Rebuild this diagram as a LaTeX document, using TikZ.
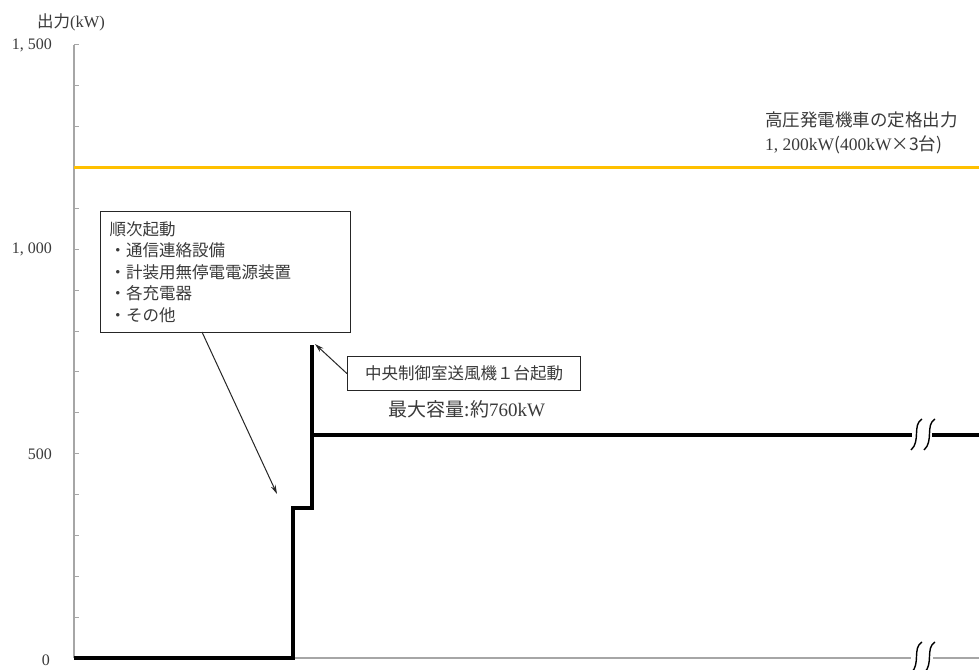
\documentclass[tikz,border=0pt]{standalone}
\usepackage{fontspec}
\setmainfont{Liberation Serif}
\newfontfamily\jp{Noto Sans CJK JP}
\usetikzlibrary{arrows.meta}
\definecolor{axisgray}{HTML}{A6A6A6}
\definecolor{gold}{HTML}{FFC000}
\definecolor{txt}{HTML}{3A3A3A}
\tikzset{
  axisline/.style={draw=axisgray, line width=1.4pt},
  tickline/.style={draw=axisgray, line width=1pt},
  stepline/.style={draw=black, line width=4pt, line join=miter},
  ratedline/.style={draw=gold, line width=3pt},
  breakmark/.style={draw=black, line width=1.4pt},
  callout/.style={draw=black!85, line width=1.2pt, text=txt, font=\jp\fontsize{16.5}{21.5}\selectfont},
  pointer/.style={draw=black!85, line width=1pt, -{Stealth[length=9pt,width=5pt]}},
  ylab/.style={anchor=east, text=txt, font=\fontsize{16}{18}\selectfont, inner sep=0pt},
  note/.style={anchor=west, text=txt, inner sep=0pt},
}
\begin{document}
\begin{tikzpicture}[x=1pt,y=-1pt]
\useasboundingbox[fill=white] (0,0) rectangle (979,669);

% axis
\draw[axisline] (74,45) -- (74,658);
\foreach \k in {0,...,15}{
  \draw[tickline] (74,{658-40.867*\k}) -- (79,{658-40.867*\k});
}
% baseline (gray part)
\draw[axisline] (293,658) -- (911,658);
\draw[axisline] (933,658) -- (979,658);

% y labels
\node[ylab] (y1500) at (52,45) {1, 500};
\node[ylab] (y1000) at (52,249) {1, 000};
\node[ylab] (y500) at (52,454) {500};
\node[ylab] (y0) at (50,660) {0};
\node[anchor=center, text=txt, inner sep=0pt, font=\fontsize{16.5}{18}\selectfont] (ytitle) at (71,22) {{\jp 出力}(kW)};

% rated output line
\draw[ratedline] (74,167) -- (979,167);
\node[note, font=\fontsize{17.5}{20}\selectfont] (rt1) at (765,120) {\jp 高圧発電機車の定格出力};
\node[note, font=\fontsize{17.5}{20}\selectfont] (rt2) at (765,145) {1, 200kW{\jp (}400kW{\jp ×3台)}};

% step curve
\coordinate (s0) at (74,658);
\coordinate (s1) at (293,658);
\coordinate (s2) at (293,508);
\coordinate (s3) at (312,508);
\coordinate (s4) at (312,345);
\coordinate (s5) at (312,435);
\coordinate (s6) at (912,435);
\coordinate (s7) at (932,435);
\coordinate (s8) at (979,435);
\draw[stepline] (s0) -- (s1) -- (s2) -- (s3) -- (s4);
\draw[stepline] (s5) -- (s6);
\draw[stepline] (s7) -- (s8);

% break marks
\foreach \yy in {435,658}{
  \draw[breakmark] (922,\yy-16) .. controls (912,\yy-10) and (921,\yy+6) .. (911,\yy+15);
  \draw[breakmark] (935,\yy-16) .. controls (925,\yy-10) and (934,\yy+6) .. (924,\yy+15);
}

% callout 1
\node[callout, anchor=north west, minimum width=250pt, minimum height=121pt, text width=232pt, inner xsep=9pt, align=left] (box1) at (100,211)
  {順次起動\\・通信連絡設備\\・計装用無停電電源装置\\・各充電器\\・その他};
\coordinate (b1foot) at (202,332);
\coordinate (t1) at (277,494);
\draw[pointer] (b1foot) -- (t1);

% callout 2
\node[callout, anchor=north west, minimum width=233pt, minimum height=34pt, inner sep=0pt] (box2) at (347,356) {中央制御室送風機１台起動};
\coordinate (t2) at (315,344);
\draw[pointer] (box2.west) -- (t2);

\node[text=txt, inner sep=0pt, font=\fontsize{19}{22}\selectfont] (maxcap) at (467,409) {{\jp 最大容量:約}760kW};
\end{tikzpicture}
\end{document}
